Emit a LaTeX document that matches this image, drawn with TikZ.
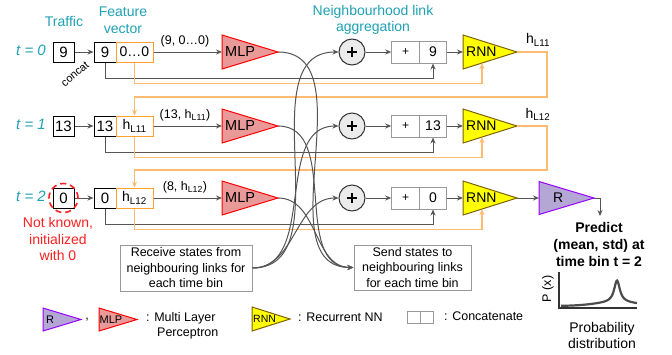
\documentclass[tikz,border=0pt]{standalone}
\usepackage{fontspec}
\setmainfont{Liberation Sans}
\usetikzlibrary{arrows.meta}
\definecolor{tealc}{HTML}{1EA2B4}
\definecolor{orgbox}{HTML}{FFA02E}
\definecolor{orgline}{HTML}{FFBB70}
\definecolor{gline}{HTML}{555555}
\definecolor{lgbox}{HTML}{999999}
\definecolor{mlpf}{HTML}{EA9999}
\definecolor{mlpd}{HTML}{FF0000}
\definecolor{rnnf}{HTML}{FFFF00}
\definecolor{rnnd}{HTML}{7F6000}
\definecolor{rf}{HTML}{B4A7D6}
\definecolor{rd}{HTML}{9900FF}
\definecolor{redt}{HTML}{FF2020}
\newcommand{\fs}[1]{\fontsize{#1}{#1}\selectfont}
\newcommand{\mytri}[9]{%
  \draw[#6] (#2,#3-#5) -- (#2+#4,#3) -- (#2,#3+#5) -- cycle;
  \coordinate (#1-tip) at (#2+#4,#3);
  \coordinate (#1-in) at (#2,#3);
  \node[anchor=west,inner sep=0pt,#7] (#1) at (#2+#8,#3) {#9};
}
\begin{document}
\begin{tikzpicture}[x=1pt,y=-1pt,
  every node/.append style={inner sep=0pt},
  arr/.style={-{Stealth[length=6pt,width=5pt]}},
  gl/.style={draw=gline,line width=1pt},
  ol/.style={draw=orgline,line width=1.4pt},
  tbox/.style={draw=black,line width=1pt,fill=white,minimum width=21pt,minimum height=20pt,font=\fs{15}},
  fbox/.style={tbox,minimum width=22pt},
  obox/.style={draw=orgbox,line width=1pt,fill=white,minimum width=37pt,minimum height=20pt,font=\fs{14}},
  cbox/.style={draw=lgbox,line width=1pt,fill=white,minimum width=27.5pt,minimum height=22pt,font=\fs{14}},
  plusc/.style={circle,draw=black!80,fill=black!8,line width=1pt,minimum size=26pt},
  mlpt/.style={draw=mlpd,fill=mlpf,line width=1pt},
  rnnt/.style={draw=rnnd,fill=rnnf,line width=1pt},
  rt/.style={draw=rd,fill=rf,line width=1pt},
  head/.style={text=tealc,align=center,font=\fontsize{14}{16.5}\selectfont},
  tlab/.style={text=tealc,font=\fontsize{15}{15}\selectfont\itshape},
  lab/.style={font=\fs{12.5}},
  msg/.style={draw=lgbox,line width=1pt,align=center,font=\fontsize{12.5}{15.5}\selectfont},
  leg/.style={anchor=west,font=\fs{12.5}}
]
\fill[white] (0,0) rectangle (672,354);
\useasboundingbox (0,0) rectangle (672,354);

% headers
\node[head] (traffic) at (64,21) {Traffic};
\node[head] (feat) at (123,20) {Feature\\vector};
\node[head] (nla) at (373,20) {Neighbourhood link\\aggregation};

% rows
\foreach \i/\Y/\v/\ov/\lab in {
  0/52/9/{0…0}/{(9, 0…0)},
  1/126/13/{h\textsubscript{L11}}/{(13, h\textsubscript{L11})},
  2/198/0/{h\textsubscript{L12}}/{(8, h\textsubscript{L12})}}
{
  \node[tbox] (tb\i) at (63.5,\Y) {\v};
  \node[fbox] (fb\i) at (105,\Y) {\v};
  \node[obox] (ob\i) at (134.5,\Y) {\ov};
  \node[tlab] (t\i) at (31,\Y-1.5) {t = \i};
  \draw[gl,arr] (tb\i) -- (fb\i);
  \mytri{mlp\i}{222}{\Y}{56}{17}{mlpt}{font=\fs{14.5}}{3}{MLP}
  \draw[gl,arr] (ob\i) -- (mlp\i-in);
  \node[lab] (lab\i) at (185,\Y-11) {\lab};
  \node[plusc] (pl\i) at (352,\Y) {};
  \draw[line width=2.6pt] (pl\i.center) ++(-5,0) -- ++(10,0);
  \draw[line width=2.6pt] (pl\i.center) ++(0,-5) -- ++(0,10);
  \node[cbox] (ca\i) at (405.5,\Y) {\fs{12}+};
  \node[cbox] (cb\i) at (433,\Y) {\v};
  \draw[gl,arr] (pl\i) -- (ca\i);
  \mytri{rnn\i}{463}{\Y}{54}{17}{rnnt}{font=\fs{14}}{3}{RNN}
  \coordinate (rnn\i-bot) at (482,\Y+11);
  \draw[gl,arr] (cb\i) -- (rnn\i-in);
  \draw[gl,arr] (fb\i.south) -- ++(0,16) -| (cb\i.south);
  \draw[ol,arr] (ob\i.south) -- ++(0,21) -| (rnn\i-bot);
}

\node[rotate=40,font=\fs{11}] (concat) at (75,74) {concat};

% feedback of hidden states
\draw[ol,arr] (rnn0-tip) -- (547,52) -- (547,97) -| (ob1.north);
\draw[ol,arr] (rnn1-tip) -- (547,126) -- (547,170) -| (ob2.north);
\node[font=\fs{14}] (h11) at (538,40) {h\textsubscript{L11}};
\node[font=\fs{14}] (h12) at (538,114.5) {h\textsubscript{L12}};

% output
\mytri{rr}{539}{198}{55}{16.5}{rt}{font=\fs{14}}{14}{R}
\draw[gl,arr] (rnn2-tip) -- (rr-in);
\coordinate (predtop) at (600,216);
\draw[gl,arr] (rr-tip) -- (600,198) -- (predtop);
\node[align=center,font=\fontsize{14}{17}\selectfont\bfseries] (pred) at (599,244) {Predict\\(mean, std) at\\time bin t = 2};

% unknown traffic
\draw[redt,line width=1.6pt,dash pattern=on 6pt off 4pt] (tb2.center) circle (14.5pt);
\node[text=redt,align=center,font=\fontsize{14}{16.5}\selectfont] (nk) at (58,239) {Not known,\\initialized\\with 0};

% message boxes
\node[msg,minimum width=132pt,minimum height=46pt] (recv) at (186,268) {Receive states from\\neighbouring links for\\each time bin};
\node[msg,minimum width=117pt,minimum height=45pt] (send) at (412.5,267.5) {Send states to\\neighbouring links\\for each time bin};
\foreach \i in {0,1,2} {
  \draw[gl,arr] (recv.east) to[out=0,in=180] (pl\i.west);
  \draw[gl,arr] (mlp\i-tip) to[out=0,in=180] (send.west);
}

% legend
\mytri{lr}{43}{319.5}{38}{11.5}{rt}{font=\fs{11}}{3}{R}
\node[font=\fs{12.5}] (comma) at (87,320) {,};
\mytri{lmlp}{99}{319.5}{38}{11.5}{mlpt}{font=\fs{11}}{0.5}{MLP}
\node[leg] (lmlptxt) at (146,318.5) {: Multi Layer};
\node[leg] (lmlptxt2) at (157,333) {Perceptron};
\mytri{lrnn}{252}{319}{38}{12}{rnnt}{font=\fs{10.5}}{1}{RNN}
\node[leg] (lrnntxt) at (298,317) {: Recurrent NN};
\node[draw=lgbox,line width=1pt,minimum width=13pt,minimum height=12pt] (lc1) at (413.5,317) {};
\node[draw=lgbox,line width=1pt,minimum width=13pt,minimum height=12pt] (lc2) at (426.5,317) {};
\node[leg] (lctxt) at (444,316.5) {: Concatenate};

% probability distribution
\draw[line width=1.6pt,draw=black!80] (559,272) -- (559,308) -- (637,308);
\draw[line width=2.2pt,draw=black!70] plot[domain=561:637,samples=150,smooth]
  (\x,{306-3.5*exp(-((\x-617)/30)*((\x-617)/30))-22/(1+((\x-617)/3.5)*((\x-617)/3.5))});
\node[rotate=90,font=\fs{12.5}] (px) at (548,289) {P (x)};
\node[align=center,font=\fontsize{14}{16}\selectfont] (prob) at (602,335) {Probability\\distribution};
\end{tikzpicture}
\end{document}
